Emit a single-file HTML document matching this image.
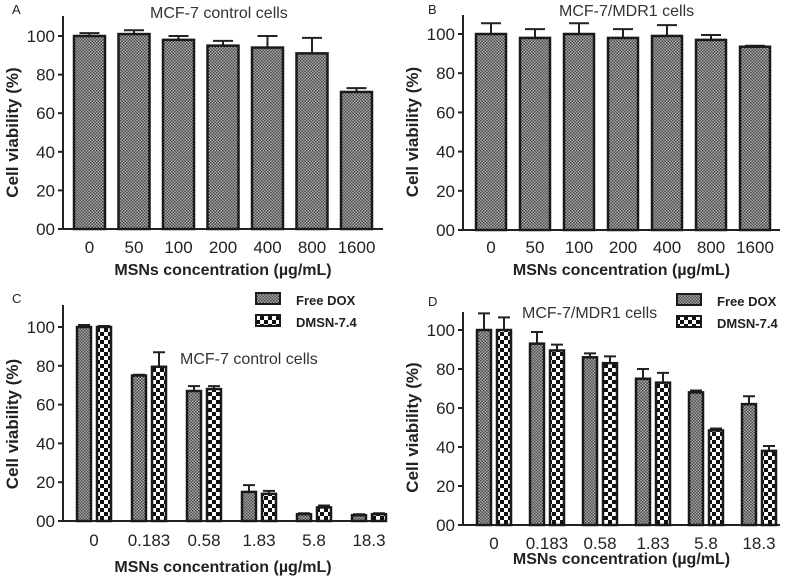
<!DOCTYPE html>
<html><head><meta charset="utf-8"><style>
body{margin:0;background:#fff}
svg{display:block;font-family:"Liberation Sans",sans-serif}
</style></head><body>
<svg id="fig" width="800" height="579" viewBox="0 0 800 579" xmlns="http://www.w3.org/2000/svg">
<defs>
<pattern id="fine" width="3" height="3" patternUnits="userSpaceOnUse"><rect width="3" height="3" fill="#aaa"/><rect width="1.5" height="1.5" fill="#4a4a4a"/><rect x="1.5" y="1.5" width="1.5" height="1.5" fill="#4a4a4a"/></pattern>
<pattern id="coarse" width="8" height="8" patternUnits="userSpaceOnUse"><rect width="8" height="8" fill="#fff"/><rect width="4" height="4" fill="#111"/><rect x="4" y="4" width="4" height="4" fill="#111"/></pattern>
</defs>
</svg>
<script>
// Panel A
const catsAB = ["0","50","100","200","400","800","1600"];
const valsA = [100,101,98,95,94,91,71];
const errA = [1.5,2,2,2.5,6,8,2];
// Panel B
const valsB = [100,98,100,98,99,97,93.5];
const errB = [5.5,4.5,5.5,4.5,5.5,2.5,0.5];
// Panel C
const catsCD = ["0","0.183","0.58","1.83","5.8","18.3"];
const freeC = [100,75,67,15,3.5,3];
const freeCErr = [1,0.4,2.5,3.5,0.5,0.5];
const dmsnC = [100,79.5,68,14,7,3.5];
const dmsnCErr = [0.5,7.5,1.5,1.5,1,0.5];
// Panel D
const freeD = [100,93,86,75,68,62];
const freeDErr = [8.5,6,2,5,1,4];
const dmsnD = [100,89.5,83,73,48.5,38];
const dmsnDErr = [6.5,3,3.5,5,1,2.5];
const yTicks = ["00","20","40","60","80","100"];

const svg = document.getElementById('fig');
const NS = "http://www.w3.org/2000/svg";
function mk(tag, attrs, parent){
  const e = document.createElementNS(NS, tag);
  for (const k in attrs) e.setAttribute(k, attrs[k]);
  (parent||svg).appendChild(e); return e;
}
function txt(s, attrs, parent){ const t = mk('text', attrs, parent); t.textContent = s; return t; }

function panel(p){
  const g = mk('g', {});
  
  
  const y = v => p.y0 - (p.y0 - p.y100) * v / 100;
  const ya = mk('line', {x1:p.ax, y1:p.top, x2:p.ax, y2:p.y0, stroke:'#222','stroke-width':2}, g);
  
  
  const xa = mk('line', {x1:p.ax-5, y1:p.y0, x2:p.right, y2:p.y0, stroke:'#222','stroke-width':2}, g);
  
  
  yTicks.forEach((t,i) => {
    const v = i*20;
    mk('line', {x1:p.ax-5, y1:y(v), x2:p.ax, y2:y(v), stroke:'#222','stroke-width':2}, g);
    const tl = txt(t, {x:p.ax-8, y:y(v)+6, 'text-anchor':'end','font-size':17,fill:'#222'}, g);
    
    
  });
  p.cats.forEach((c,i) => {
    const gx = p.first + i*p.pitch;
    p.series.forEach((s,j) => {
      const bx = gx + j*(p.bw + p.gap);
      const v = s.vals[i], e = s.err[i];
      const cx = bx + p.bw/2;
      const eb = mk('path', {d:`M${cx},${y(v)} V${y(v+e)} M${cx-p.cap},${y(v+e)} H${cx+p.cap}`, stroke:'#222','stroke-width':2,fill:'none'}, g);
      
      
      const r = mk('rect', {x:bx, y:y(v), width:p.bw, height:p.y0-y(v), fill:`url(#${s.pat})`, stroke:'#1a1a1a','stroke-width':2.5}, g);
      
      
    });
    const cx = gx + (p.series.length*p.bw + (p.series.length-1)*p.gap)/2;
    const xl = txt(c, {x:cx, y:p.xlabY, 'text-anchor':'middle','font-size':17,fill:'#222'}, g);
    
    
  });
  const yt = txt('Cell viability (%)', {x:0, y:0, transform:`translate(${p.ax-45},${(p.y0+p.y100)/2}) rotate(-90)`, 'text-anchor':'middle','font-size':17,'font-weight':'bold',fill:'#222'}, g);
  
  
  const xt = txt('MSNs concentration (\u00b5g/mL)', {x:(p.ax+p.right)/2, y:p.xtY, 'text-anchor':'middle','font-size':16,'font-weight':'bold',fill:'#222'}, g);
  
  
  const tt = txt(p.title, {x:p.titleX, y:p.titleY, 'font-size':16,fill:'#333'}, g);
  
  
  const lt = txt(p.letter, {x:p.letX, y:p.letY, 'font-size':13,fill:'#222'}, g);
  
  
  if (p.legend){
    p.series.forEach((s,j) => {
      const ly = p.legend.y + j*22;
      const sw = mk('rect', {x:p.legend.x, y:ly-10, width:24, height:11, fill:`url(#${s.pat})`, stroke:'#1a1a1a','stroke-width':2}, g);
      
      
      const lg = txt(s.label, {x:p.legend.x+40, y:ly+2, 'font-size':13,'font-weight':'bold',fill:'#222'}, g);
      
      
    });
  }
}

panel({name:'panel-a', ax:63, top:16, right:383, y0:229, y100:36, cats:catsAB, first:74, pitch:44.5, bw:31, gap:0, cap:10,
  series:[{key:'a', vals:valsA, err:errA, pat:'fine'}], xlabY:253, xtY:275,
  title:'MCF-7 control cells', titleX:150, titleY:18, letter:'A', letX:12, letY:14});
panel({name:'panel-b', ax:463, top:15, right:780, y0:230, y100:34, cats:catsAB, first:476, pitch:44, bw:30, gap:0, cap:10,
  series:[{key:'b', vals:valsB, err:errB, pat:'fine'}], xlabY:253, xtY:275,
  title:'MCF-7/MDR1 cells', titleX:559, titleY:16, letter:'B', letX:428, letY:14});
panel({name:'panel-c', ax:63, top:305, right:383, y0:521, y100:327, cats:catsCD, first:77, pitch:55, bw:14, gap:6, cap:6,
  series:[{key:'free-dox', label:'Free DOX', vals:freeC, err:freeCErr, pat:'fine'},{key:'dmsn', label:'DMSN-7.4', vals:dmsnC, err:dmsnCErr, pat:'coarse'}],
  xlabY:546, xtY:572, legend:{x:256, y:303},
  title:'MCF-7 control cells', titleX:180, titleY:364, letter:'C', letX:12, letY:303});
panel({name:'panel-d', ax:463, top:312, right:780, y0:525, y100:330, cats:catsCD, first:477, pitch:53, bw:14, gap:6, cap:6,
  series:[{key:'free-dox', label:'Free DOX', vals:freeD, err:freeDErr, pat:'fine'},{key:'dmsn', label:'DMSN-7.4', vals:dmsnD, err:dmsnDErr, pat:'coarse'}],
  xlabY:549, xtY:564, legend:{x:677, y:304},
  title:'MCF-7/MDR1 cells', titleX:522, titleY:318, letter:'D', letX:428, letY:306});
</script>
</body></html>
